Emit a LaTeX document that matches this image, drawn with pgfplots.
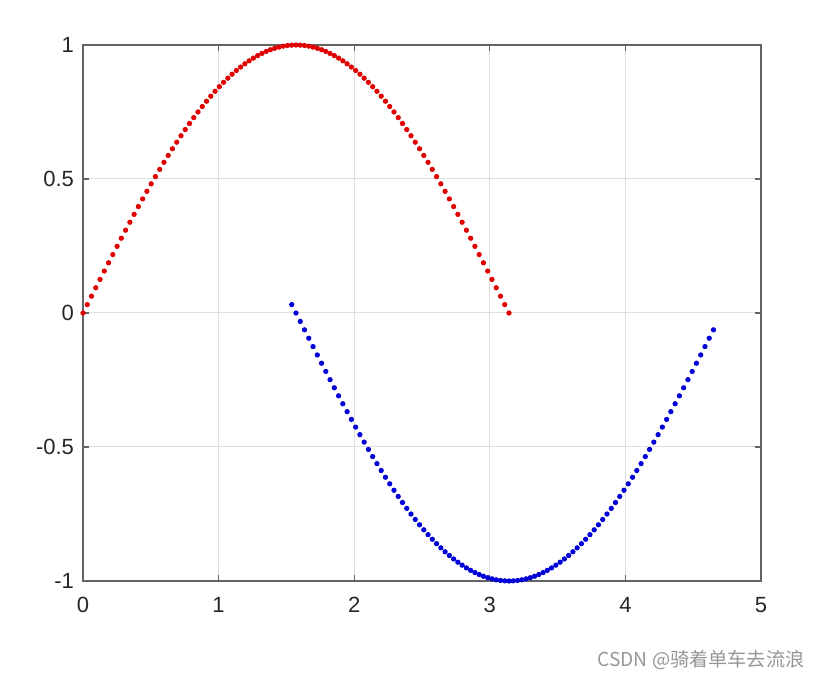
\documentclass[border=0pt]{standalone}
\usepackage{pgfplots}
\pgfplotsset{compat=1.18}
\usepackage{fontspec}
\setmainfont{Liberation Sans}
\newfontfamily\cjk{Noto Sans CJK SC}
\definecolor{axgray}{RGB}{100,100,100}
\definecolor{gridgray}{RGB}{222,222,222}
\definecolor{wmgray}{RGB}{150,150,150}
\definecolor{dotred}{RGB}{225,0,0}
\definecolor{dotblue}{RGB}{0,0,215}
\begin{document}
\begin{tikzpicture}
\begin{axis}[
  scale only axis, width=339pt, height=268pt,
  xmin=0, xmax=5, ymin=-1, ymax=1,
  xtick={0,1,2,3,4,5}, xticklabels={0,1,2,3,4,5},
  ytick={-1,-0.5,0,0.5,1}, yticklabels={-1,-0.5,0,0.5,1},
  grid=major, major grid style={gridgray, line width=0.5pt},
  axis line style={axgray, line width=0.9pt},
  tick style={axgray, line width=0.6pt},
  major tick length=3pt,
  tick align=inside,
  ticklabel style={font=\fontsize{11}{13}\selectfont, text=black!85},
  xticklabel style={yshift=-4.5pt},
  yticklabel style={xshift=-1pt},
  /pgf/number format/assume math mode=true,
  clip=false,
]
\addplot[only marks, mark=*, mark size=1.1pt, dotred, mark options={draw=dotred, fill=dotred}] coordinates {
(0.0000,0.0000) (0.0314,0.0314) (0.0628,0.0628) (0.0942,0.0941) (0.1257,0.1253)
(0.1571,0.1564) (0.1885,0.1874) (0.2199,0.2181) (0.2513,0.2487) (0.2827,0.2790)
(0.3142,0.3090) (0.3456,0.3387) (0.3770,0.3681) (0.4084,0.3971) (0.4398,0.4258)
(0.4712,0.4540) (0.5027,0.4818) (0.5341,0.5090) (0.5655,0.5358) (0.5969,0.5621)
(0.6283,0.5878) (0.6597,0.6129) (0.6912,0.6374) (0.7226,0.6613) (0.7540,0.6845)
(0.7854,0.7071) (0.8168,0.7290) (0.8482,0.7501) (0.8796,0.7705) (0.9111,0.7902)
(0.9425,0.8090) (0.9739,0.8271) (1.0053,0.8443) (1.0367,0.8607) (1.0681,0.8763)
(1.0996,0.8910) (1.1310,0.9048) (1.1624,0.9178) (1.1938,0.9298) (1.2252,0.9409)
(1.2566,0.9511) (1.2881,0.9603) (1.3195,0.9686) (1.3509,0.9759) (1.3823,0.9823)
(1.4137,0.9877) (1.4451,0.9921) (1.4765,0.9956) (1.5080,0.9980) (1.5394,0.9995)
(1.5708,1.0000) (1.6022,0.9995) (1.6336,0.9980) (1.6650,0.9956) (1.6965,0.9921)
(1.7279,0.9877) (1.7593,0.9823) (1.7907,0.9759) (1.8221,0.9686) (1.8535,0.9603)
(1.8850,0.9511) (1.9164,0.9409) (1.9478,0.9298) (1.9792,0.9178) (2.0106,0.9048)
(2.0420,0.8910) (2.0735,0.8763) (2.1049,0.8607) (2.1363,0.8443) (2.1677,0.8271)
(2.1991,0.8090) (2.2305,0.7902) (2.2619,0.7705) (2.2934,0.7501) (2.3248,0.7290)
(2.3562,0.7071) (2.3876,0.6845) (2.4190,0.6613) (2.4504,0.6374) (2.4819,0.6129)
(2.5133,0.5878) (2.5447,0.5621) (2.5761,0.5358) (2.6075,0.5090) (2.6389,0.4818)
(2.6704,0.4540) (2.7018,0.4258) (2.7332,0.3971) (2.7646,0.3681) (2.7960,0.3387)
(2.8274,0.3090) (2.8588,0.2790) (2.8903,0.2487) (2.9217,0.2181) (2.9531,0.1874)
(2.9845,0.1564) (3.0159,0.1253) (3.0473,0.0941) (3.0788,0.0628) (3.1102,0.0314)
(3.1416,0.0000)
};
\addplot[only marks, mark=*, mark size=1.1pt, dotblue, mark options={draw=dotblue, fill=dotblue}] coordinates {
(1.5394,0.0314) (1.5708,0.0000) (1.6022,-0.0314) (1.6336,-0.0628) (1.6650,-0.0941)
(1.6965,-0.1253) (1.7279,-0.1564) (1.7593,-0.1874) (1.7907,-0.2181) (1.8221,-0.2487)
(1.8535,-0.2790) (1.8850,-0.3090) (1.9164,-0.3387) (1.9478,-0.3681) (1.9792,-0.3971)
(2.0106,-0.4258) (2.0420,-0.4540) (2.0735,-0.4818) (2.1049,-0.5090) (2.1363,-0.5358)
(2.1677,-0.5621) (2.1991,-0.5878) (2.2305,-0.6129) (2.2619,-0.6374) (2.2934,-0.6613)
(2.3248,-0.6845) (2.3562,-0.7071) (2.3876,-0.7290) (2.4190,-0.7501) (2.4504,-0.7705)
(2.4819,-0.7902) (2.5133,-0.8090) (2.5447,-0.8271) (2.5761,-0.8443) (2.6075,-0.8607)
(2.6389,-0.8763) (2.6704,-0.8910) (2.7018,-0.9048) (2.7332,-0.9178) (2.7646,-0.9298)
(2.7960,-0.9409) (2.8274,-0.9511) (2.8588,-0.9603) (2.8903,-0.9686) (2.9217,-0.9759)
(2.9531,-0.9823) (2.9845,-0.9877) (3.0159,-0.9921) (3.0473,-0.9956) (3.0788,-0.9980)
(3.1102,-0.9995) (3.1416,-1.0000) (3.1730,-0.9995) (3.2044,-0.9980) (3.2358,-0.9956)
(3.2673,-0.9921) (3.2987,-0.9877) (3.3301,-0.9823) (3.3615,-0.9759) (3.3929,-0.9686)
(3.4243,-0.9603) (3.4558,-0.9511) (3.4872,-0.9409) (3.5186,-0.9298) (3.5500,-0.9178)
(3.5814,-0.9048) (3.6128,-0.8910) (3.6442,-0.8763) (3.6757,-0.8607) (3.7071,-0.8443)
(3.7385,-0.8271) (3.7699,-0.8090) (3.8013,-0.7902) (3.8327,-0.7705) (3.8642,-0.7501)
(3.8956,-0.7290) (3.9270,-0.7071) (3.9584,-0.6845) (3.9898,-0.6613) (4.0212,-0.6374)
(4.0527,-0.6129) (4.0841,-0.5878) (4.1155,-0.5621) (4.1469,-0.5358) (4.1783,-0.5090)
(4.2097,-0.4818) (4.2412,-0.4540) (4.2726,-0.4258) (4.3040,-0.3971) (4.3354,-0.3681)
(4.3668,-0.3387) (4.3982,-0.3090) (4.4296,-0.2790) (4.4611,-0.2487) (4.4925,-0.2181)
(4.5239,-0.1874) (4.5553,-0.1564) (4.5867,-0.1253) (4.6181,-0.0941) (4.6496,-0.0628)
};
\coordinate (bl) at (rel axis cs:0,0);
\coordinate (br) at (rel axis cs:1,0);
\coordinate (tr) at (rel axis cs:1,1);
\end{axis}
\node[anchor=base east, text=wmgray, font=\cjk\fontsize{9.6}{11}\selectfont, inner sep=0pt] at ([xshift=22pt,yshift=-43pt]br) {CSDN @骑着单车去流浪};
\pgfresetboundingbox
\path[use as bounding box] ([xshift=-41.5pt,yshift=-49.5pt]bl) rectangle ([xshift=29.5pt,yshift=22.5pt]tr);
\end{tikzpicture}
\end{document}
